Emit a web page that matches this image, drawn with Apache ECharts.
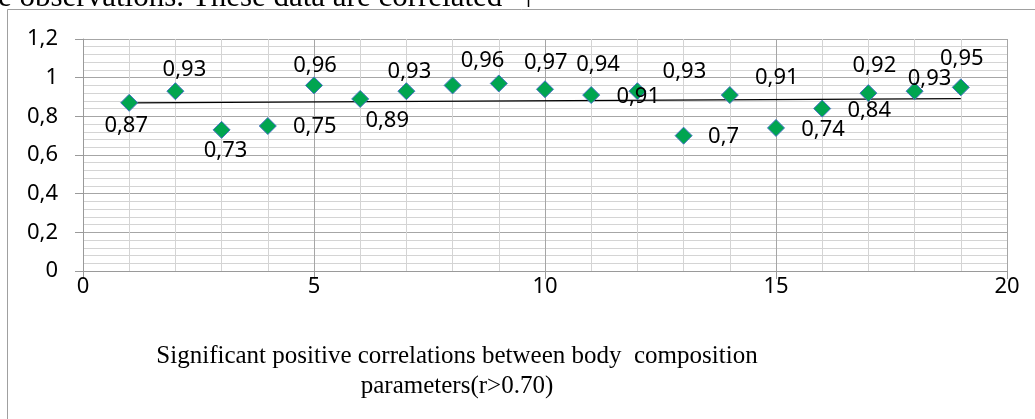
<!DOCTYPE html>
<html>
<head>
<meta charset="utf-8">
<script src="https://cdn.jsdelivr.net/npm/echarts@6/dist/echarts.min.js"></script>
<style>
  html, body { margin: 0; padding: 0; background: #fff; }
  #chart { width: 1035px; height: 419px; }
</style>
</head>
<body>
<div id="chart"></div>
<script>
// correlation coefficients, one per parameter pair (1..19)
let pairIndex = [1, 2, 3, 4, 5, 6, 7, 8, 9, 10, 11, 12, 13, 14, 15, 16, 17, 18, 19];
let corrValues = [0.87, 0.93, 0.73, 0.75, 0.96, 0.89, 0.93, 0.96, 0.97, 0.94,
                  0.91, 0.93, 0.70, 0.91, 0.74, 0.84, 0.92, 0.93, 0.95];
// linear trend line, end points
let trendX = [1, 19];
let trendY = [0.870, 0.892];

let yTicks = { min: 0, max: 1.2, interval: 0.2 };
let xTicks = { min: 0, max: 20, interval: 5 };

let captionLines = ['Significant positive correlations between body  composition', 'parameters(r>0.70)'];
let topText = 'e observations. These data are correlated';

// where each data label sits relative to its marker (Excel labels were dragged by hand)
let labelNudge = [
    [-3, 23], [9, -21], [4, 21], [47, 1], [1, -20], [27, 22], [3, -19], [30, -25], [47, -21], [53, -25],
    [47, 2], [47, -19], [40, 1], [47, -17], [47, 2], [47, 2], [6, -27], [15, -12], [1, -29]
];

function comma(v) {
    return String(+v.toFixed(2)).replace('.', ',');
}

let chart = echarts.init(document.getElementById('chart'));

let scatterData = [];
for (let i = 0; i < pairIndex.length; i++) {
    scatterData.push({
        value: [pairIndex[i], corrValues[i]],
        label: {
            position: 'inside',
            offset: labelNudge[i]
        }
    });
}

let axisFont = {
    fontFamily: 'Noto Sans',
    fontSize: 22,
    color: '#000'
};

let option = {
    animation: false,
    backgroundColor: '#fff',
    grid: {
        left: 83,
        right: 28,
        top: 39,
        bottom: 148,
        containLabel: false,
        outerBoundsMode: 'none'
    },
    xAxis: {
        type: 'value',
        min: xTicks.min,
        max: xTicks.max,
        interval: xTicks.interval,
        axisLine: { show: true, onZero: false, lineStyle: { color: '#9a9a9a', width: 1 } },
        axisTick: { show: true, inside: false, length: 8, lineStyle: { color: '#9a9a9a' } },
        axisLabel: Object.assign({ margin: 5 }, axisFont),
        splitLine: { show: true, lineStyle: { color: '#a6a6a6', width: 1 } },
        minorTick: { show: true, splitNumber: 5, length: 0 },
        minorSplitLine: { show: true, lineStyle: { color: '#d4d4d4', width: 1 } }
    },
    yAxis: {
        type: 'value',
        min: yTicks.min,
        max: yTicks.max,
        interval: yTicks.interval,
        axisLine: { show: true, onZero: false, lineStyle: { color: '#9a9a9a', width: 1 } },
        axisTick: { show: true, inside: false, length: 8, lineStyle: { color: '#9a9a9a' } },
        axisLabel: Object.assign({
            margin: 25,
            formatter: function (v) { return comma(v); }
        }, axisFont),
        splitLine: { show: true, lineStyle: { color: '#a6a6a6', width: 1 } },
        minorTick: { show: true, splitNumber: 5, length: 0 },
        minorSplitLine: { show: true, lineStyle: { color: '#d4d4d4', width: 1 } }
    },
    title: {
        text: captionLines.join('\n'),
        left: 452,
        top: 336,
        textAlign: 'center',
        textStyle: {
            fontFamily: 'Liberation Serif',
            fontWeight: 'normal',
            fontSize: 25,
            lineHeight: 30,
            color: '#000'
        }
    },
    graphic: [
        {
            type: 'rect',
            silent: true,
            shape: { x: 7.5, y: 9.5, width: 1100, height: 500 },
            style: { fill: 'none', stroke: '#a0a0a0', lineWidth: 1 }
        },
        {
            type: 'text',
            silent: true,
            style: {
                x: -2,
                y: 13,
                text: topText,
                fontFamily: 'Liberation Serif',
                fontSize: 31,
                fill: '#000',
                verticalAlign: 'bottom'
            }
        },
        {
            type: 'line',
            silent: true,
            shape: { x1: 528.5, y1: 0, x2: 528.5, y2: 7 },
            style: { stroke: '#000', lineWidth: 1.5 }
        }
    ],
    series: [
        {
            name: 'Trend',
            type: 'line',
            data: trendX.map(function (x, i) { return [x, trendY[i]]; }),
            symbol: 'none',
            lineStyle: { color: '#000', width: 1.3 },
            z: 2
        },
        {
            name: 'r',
            type: 'scatter',
            data: scatterData,
            symbol: 'diamond',
            symbolSize: 17,
            itemStyle: {
                color: '#00a550',
                borderColor: '#4472c4',
                borderWidth: 1,
                opacity: 1
            },
            label: {
                show: true,
                fontFamily: 'Noto Sans',
                fontSize: 22,
                color: '#000',
                formatter: function (p) { return comma(p.value[1]); }
            },
            z: 3
        }
    ]
};

chart.setOption(option);
</script>
</body>
</html>
